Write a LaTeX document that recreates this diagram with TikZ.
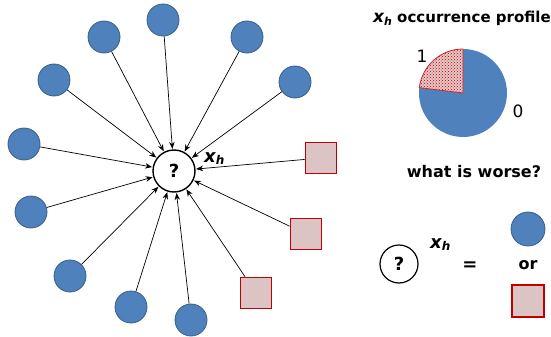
\documentclass[tikz,border=0pt]{standalone}
\usepackage{fontspec}
\setmainfont{DejaVu Sans}
\usetikzlibrary{arrows.meta,patterns}
\definecolor{nodeblue}{RGB}{79,129,189}
\definecolor{blueedge}{RGB}{56,93,138}
\definecolor{sqred}{RGB}{192,0,0}
\definecolor{sqfill}{RGB}{220,196,196}
\definecolor{piefill}{RGB}{228,200,200}
% bold italic x with subscript h
\newcommand{\xh}[2]{{\fontsize{#1}{#1}\selectfont\bfseries\itshape x}\raisebox{-0.35ex}{\fontsize{#2}{#2}\selectfont\bfseries\itshape h}}
\tikzset{
  bluenode/.style={circle,draw=blueedge,line width=0.8pt,fill=nodeblue,minimum size=32pt,inner sep=0pt},
  rednode/.style={rectangle,draw=sqred,line width=1.8pt,fill=sqfill,minimum size=31pt,inner sep=0pt},
  qnode/.style={circle,draw=black,line width=1.4pt,fill=white,inner sep=0pt,font=\fontsize{18}{18}\selectfont\bfseries},
  link/.style={-{Stealth[length=7pt,width=5.5pt]},line width=0.7pt,shorten >=0.5pt},
  lbl/.style={inner sep=0pt,font=\fontsize{16}{18}\selectfont\bfseries},
}
\begin{document}
\begin{tikzpicture}[x=1pt,y=-1pt]
\useasboundingbox (0,0) rectangle (551,337);

% central unknown node
\node[qnode,minimum size=42pt] (c) at (174,171) {?};
\node[inner sep=0pt,anchor=west] (xlab) at (204,159) {\xh{18}{12}};

% neighbours
\node[bluenode] (b1) at (104,37) {};
\node[bluenode] (b2) at (163,20) {};
\node[bluenode] (b3) at (247,37) {};
\node[bluenode] (b4) at (295,82) {};
\node[bluenode] (b5) at (54,80) {};
\node[bluenode] (b6) at (24,144) {};
\node[bluenode] (b7) at (31,212) {};
\node[bluenode] (b8) at (70,276) {};
\node[bluenode] (b9) at (131,307) {};
\node[bluenode] (b10) at (191,320) {};
\node[rednode] (r1) at (321,158) {};
\node[rednode] (r2) at (306,234) {};
\node[rednode] (r3) at (256,293) {};

\foreach \n in {b1,b2,b3,b4,b5,b6,b7,b8,b9,b10,r1,r2,r3}
  \draw[link] (\n) -- (c);

% occurrence profile
\node[inner sep=0pt,anchor=west,font=\fontsize{15}{17}\selectfont\bfseries] (title) at (373,18) {\xh{17}{11} occurrence profile};
\coordinate (pc) at (463,93);
\fill[nodeblue] (pc) -- ++(-90:44) arc[start angle=-90,end angle=187,radius=44] -- cycle;
\fill[piefill] (pc) -- ++(-90:44) arc[start angle=-90,end angle=-173,radius=44] -- cycle;
\fill[pattern=crosshatch dots,pattern color=sqred] (pc) -- ++(-90:44) arc[start angle=-90,end angle=-173,radius=44] -- cycle;
\draw[sqred!85,line width=0.8pt] (pc) -- ++(-90:44) arc[start angle=-90,end angle=-173,radius=44] -- cycle;
\node[inner sep=0pt,font=\fontsize{17}{17}\selectfont] (one) at (422,56) {1};
\node[inner sep=0pt,font=\fontsize{17}{17}\selectfont] (zero) at (518,111) {0};

\node[lbl] (worse) at (474,172) {what is worse?};

% legend
\node[qnode,minimum size=38pt,line width=1.2pt] (q2) at (399,264) {?};
\node[inner sep=0pt,anchor=west] (xlab2) at (430,245) {\xh{18}{12}};
\node[lbl,font=\fontsize{18}{18}\selectfont\bfseries] (eq) at (470,266) {=};
\node[bluenode,minimum size=34pt] (lb) at (528,229) {};
\node[lbl] (or) at (528,265) {or};
\node[rednode,minimum size=32pt] (lr) at (528,301) {};
\end{tikzpicture}
\end{document}
